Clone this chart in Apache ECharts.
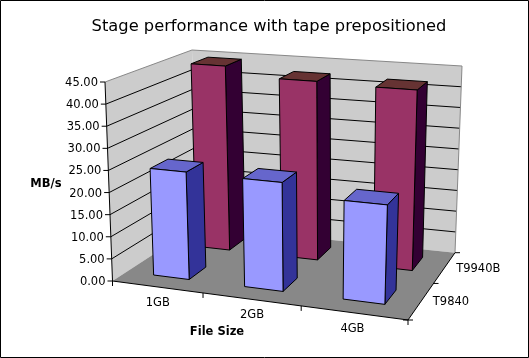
<!DOCTYPE html>
<html><head><meta charset="utf-8">
<style>html,body{margin:0;padding:0;background:#fff}#c{width:529px;height:358px}</style>
<script src="https://cdn.jsdelivr.net/npm/echarts@6/dist/echarts.min.js"></script>
</head><body><div id="c"></div>
<script>
const categories = ['1GB','2GB','4GB'];
const depthNames = ['T9840','T9940B'];
const t9840 = [24.4,24.2,21.6];
const t9940b = [44.5,42.3,41.9];
const yTicks = [0,5,10,15,20,25,30,35,40,45];
const yMax = 45;

const FONT = 'DejaVu Sans';
// box corners of the 3-D room
const bot = {FL:[112.5,281],FR:[408,320],BR:[455,252.7],BL:[197,226]};
const top_ = {FL:[105,82],FR:[416,107],BR:[462,66],BL:[192,50]};

function homography(q){
  // unit square (u,v) -> quad FL(0,0) FR(1,0) BR(1,1) BL(0,1)
  const [x0,y0]=q.FL,[x1,y1]=q.FR,[x2,y2]=q.BR,[x3,y3]=q.BL;
  const dx1=x1-x2,dx2=x3-x2,sx=x0-x1+x2-x3,dy1=y1-y2,dy2=y3-y2,sy=y0-y1+y2-y3;
  const d=dx1*dy2-dx2*dy1;
  const g=(sx*dy2-dx2*sy)/d,h=(dx1*sy-sx*dy1)/d;
  const a=x1-x0+g*x1,b=x3-x0+h*x3,c=x0,e=y1-y0+g*y1,f=y3-y0+h*y3,k=y0;
  return (u,v)=>{const w=g*u+h*v+1;return [(a*u+b*v+c)/w,(e*u+f*v+k)/w];};
}
const Hb=homography(bot),Ht=homography(top_);
function P(u,v,t){const a=Hb(u,v),b=Ht(u,v);return [a[0]+(b[0]-a[0])*t,a[1]+(b[1]-a[1])*t];}

// normalise a data point through the axes' scales into room coordinates
function norm(api,cs,cat,val){
  const p=api.coord([cat,val]);
  return {u:(p[0]-cs.x)/cs.width,t:1-(p[1]-cs.y)/cs.height,band:api.size([1,0])[0]/cs.width};
}
function poly(pts,fill,stroke,lw){return {type:'polygon',shape:{points:pts},style:{fill:fill,stroke:stroke||null,lineWidth:lw||1}};}
function line(a,b,stroke,lw){return {type:'line',shape:{x1:a[0],y1:a[1],x2:b[0],y2:b[1]},style:{stroke:stroke,lineWidth:lw||1,fill:null}};}
function label(text,x,y,align,font){return {type:'text',style:{text:text,x:x,y:y,align:align||'center',verticalAlign:'middle',fill:'#000',font:font||('11.5px "'+FONT+'"')}};}

function renderFrame(params,api){
  const cs=params.coordSys, kids=[];
  kids.push(poly([P(0,0,0),P(0,1,0),P(0,1,1),P(0,0,1)],'#CCCCCC'));
  kids.push(poly([P(0,1,0),P(1,1,0),P(1,1,1),P(0,1,1)],'#CCCCCC'));
  kids.push(poly([P(0,0,0),P(1,0,0),P(1,1,0),P(0,1,0)],'#888888'));
  yTicks.forEach(tv=>{
    const t=norm(api,cs,0,tv).t;
    if(tv>0&&tv<yMax){
      kids.push(line(P(0,0,t),P(0,1,t),'#000'));
      kids.push(line(P(0,1,t),P(1,1,t),'#000'));
    }
    const a=P(0,0,t);
    kids.push(line([a[0]-5,a[1]],a,'#000'));
    kids.push(label(tv.toFixed(2),a[0]-7,a[1]+1,'right'));
  });
  // wall edges
  kids.push(line(P(0,0,1),P(0,1,1),'#888'));
  kids.push(line(P(0,1,1),P(1,1,1),'#888'));
  kids.push(line(P(1,1,1),P(1,1,0),'#888'));
  kids.push(line(P(0,0,0),P(0,0,1),'#000'));
  // floor edges + ticks
  kids.push(line(P(0,0,0),P(1,0,0),'#000'));
  kids.push(line(P(1,0,0),P(1,1,0),'#000'));
  const n=categories.length;
  for(let i=0;i<=n;i++){
    const a=Hb(i/n,0);
    kids.push(line(a,[a[0],a[1]+5],'#000'));
  }
  categories.forEach((c,i)=>{
    const a=Hb((i+0.5)/n,0);
    kids.push(label(c,a[0]+(i==2?-1:1),a[1]+16));
  });
  const m=depthNames.length;
  for(let j=0;j<=m;j++){
    const a=Hb(1,j/m);
    kids.push(line([a[0]-(j==0?5:0),a[1]],[a[0]+5,a[1]],'#000'));
  }
  depthNames.forEach((d,j)=>{
    const a=Hb(1,(j+0.5)/m);
    kids.push(label(d,a[0]+11.5,a[1]+1.5,'left'));
  });
  return {type:'group',children:kids};
}

function barRenderer(depthIndex,cFront,cSide,cTop,uShift,vExtra){
  return function(params,api){
    const cs=params.coordSys;
    const n=norm(api,cs,api.value(0),api.value(1));
    const u0=n.u-n.band*0.2+uShift,u1=n.u+n.band*0.2+uShift;
    const m=depthNames.length;
    const v0=(depthIndex+0.3)/m,v1=(depthIndex+0.7)/m+vExtra,t=n.t;
    const s='#000';
    return {type:'group',children:[
      poly([P(u1,v0,0),P(u1,v1,0),P(u1,v1,t),P(u1,v0,t)],cSide,s),
      poly([P(u0,v0,t),P(u1,v0,t),P(u1,v1,t),P(u0,v1,t)],cTop,s),
      poly([P(u0,v0,0),P(u1,v0,0),P(u1,v0,t),P(u0,v0,t)],cFront,s)
    ]};
  };
}
const toData=a=>a.map((v,i)=>[i,v]);
const chart=echarts.init(document.getElementById('c'),null,{renderer:'canvas'});
chart.setOption({
  animation:false,
  backgroundColor:'#fff',
  title:{text:'Stage performance with tape prepositioned',left:264,top:14,textAlign:'center',
    textStyle:{fontFamily:FONT,fontSize:16.3,fontWeight:'normal',color:'#000'}},
  grid:{left:100,top:40,width:360,height:240},
  xAxis:{type:'category',data:categories,show:false},
  yAxis:{type:'value',min:0,max:yMax,interval:5,show:false},
  graphic:[
    {type:'rect',shape:{x:0.5,y:0.5,width:528,height:357},style:{fill:null,stroke:'#000',lineWidth:1},silent:true,z:100},
    {type:'text',style:{text:'MB/s',x:46,y:184,align:'center',verticalAlign:'middle',font:'bold 11.5px "'+FONT+'"',fill:'#000'},silent:true},
    {type:'text',style:{text:'File Size',x:217,y:332,align:'center',verticalAlign:'middle',font:'bold 11.5px "'+FONT+'"',fill:'#000'},silent:true}
  ],
  series:[
    {type:'custom',name:'frame',data:[[0,0]],renderItem:renderFrame,clip:false,silent:true,z:1},
    {type:'custom',name:depthNames[1],data:toData(t9940b),renderItem:barRenderer(1,'#993366','#330033','#663333',0.006,0.02),clip:false,silent:true,z:2},
    {type:'custom',name:depthNames[0],data:toData(t9840),renderItem:barRenderer(0,'#9999FF','#333399','#6666CC',0.003,0),clip:false,silent:true,z:3}
  ]
});
</script></body></html>
